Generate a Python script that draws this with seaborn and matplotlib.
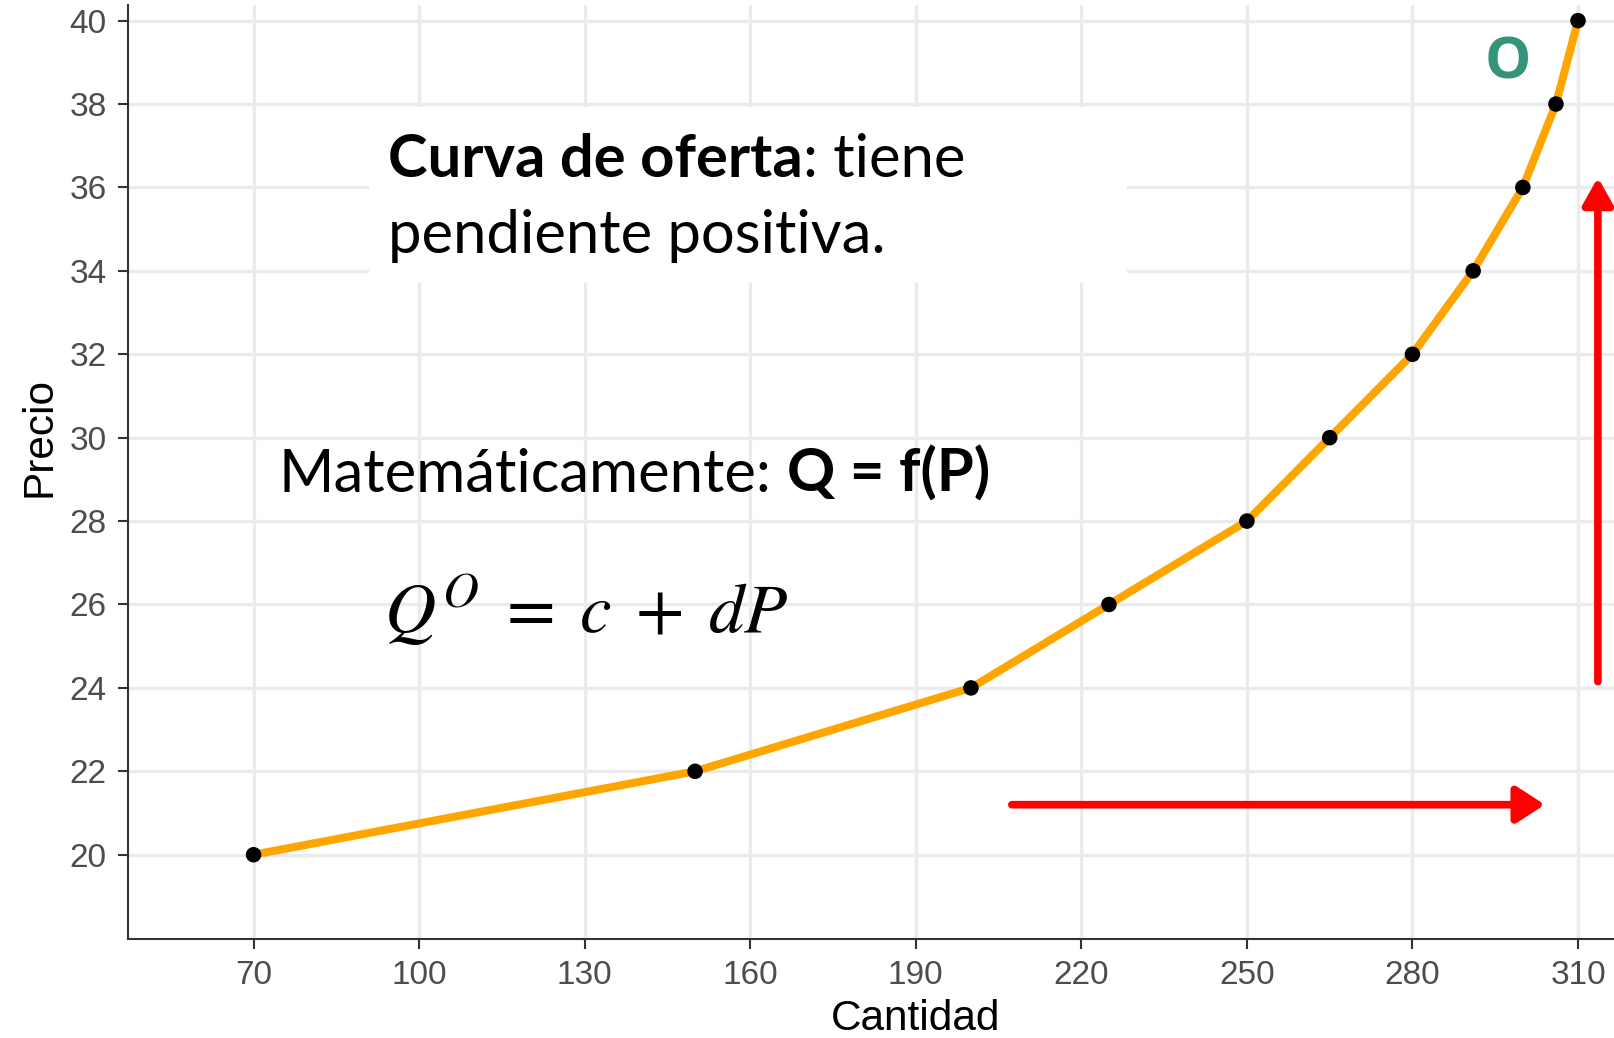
import matplotlib.pyplot as plt
import pandas as pd
import seaborn as sns
from matplotlib.patches import Rectangle

# supply curve points
cantidad = [70, 150, 200, 225, 250, 265, 280, 291, 300, 306, 310]
precio = [20, 22, 24, 26, 28, 30, 32, 34, 36, 38, 40]

x_ticks = [70, 100, 130, 160, 190, 220, 250, 280, 310]
y_ticks = [20, 22, 24, 26, 28, 30, 32, 34, 36, 38, 40]

df = pd.DataFrame({"Cantidad": cantidad, "Precio": precio})

sns.set_theme(style="whitegrid")
plt.rcParams["font.family"] = ["Liberation Sans", "DejaVu Sans"]
plt.rcParams["mathtext.fontset"] = "stix"

fig = plt.figure(figsize=(16.15, 10.38), dpi=100)
ax = fig.add_axes([0.0791, 0.0954, 0.9209, 0.8996])

sns.lineplot(data=df, x="Cantidad", y="Precio", color="#FFA500", linewidth=5.8, ax=ax, zorder=3)
sns.scatterplot(data=df, x="Cantidad", y="Precio", color="black", s=125, edgecolor="none", ax=ax, zorder=4)

ax.set_xlim(47.2, 316.7)
ax.set_ylim(17.98, 40.37)
ax.set_xticks(x_ticks)
ax.set_yticks(y_ticks)

ax.grid(True, color="#EBEBEB", linewidth=2.4)
for side in ["top", "right"]:
    ax.spines[side].set_visible(False)
for side in ["left", "bottom"]:
    ax.spines[side].set_color("#333333")
    ax.spines[side].set_linewidth(1.5)
ax.tick_params(axis="both", which="major", length=7.2, width=1.5, color="#333333",
               labelsize=24, labelcolor="#4D4D4D", pad=8, bottom=True, left=True)
ax.set_xlabel("Cantidad", fontsize=30.5, color="black", labelpad=5)
ax.set_ylabel("Precio", fontsize=30.5, color="black", labelpad=7)
ax.xaxis.set_label_coords(0.53, -0.064)
ax.yaxis.label.set_y(0.538)

# white box behind the title text
ax.add_patch(Rectangle((369 / 1615, 1 - 283 / 1038), (1127 - 369) / 1615, (283 - 107) / 1038,
                       transform=fig.transFigure, facecolor="white", edgecolor="none", zorder=1))

txt_font = ["Lato", "DejaVu Sans"]
t1 = ax.text(94.4, 36.24, "Curva de oferta", fontsize=43, fontweight="bold", color="black",
             family=txt_font, va="baseline", ha="left", zorder=5)
ax.annotate(": tiene", xy=(1, 0), xycoords=t1, va="bottom", ha="left", color="black",
            fontsize=43, family=txt_font, zorder=5)
ax.text(94.4, 34.44, "pendiente positiva.", fontsize=43, family=txt_font, color="black",
        va="baseline", ha="left", zorder=5)

t2 = ax.text(74.5, 28.70, "Matemáticamente:", fontsize=43, family=txt_font, color="black",
             va="baseline", ha="left", zorder=5)
ax.annotate("Q = f(P)", xy=(1, 0), xycoords=t2, xytext=(11, 0), textcoords="offset points",
            va="bottom", ha="left", fontsize=43, fontweight="bold", family=txt_font,
            color="black", zorder=5)

ax.text(93.6, 25.32, r"$Q^{O}\;=\;c\;+\;dP$", fontsize=51, color="black",
        va="baseline", ha="left", zorder=5)

ax.text(297.3, 38.97, "O", fontsize=42, fontweight="bold", color="#33947A",
        family=["Open Sans", "DejaVu Sans"], va="center", ha="center", zorder=5)

# red arrows
ax.annotate("", xy=(304.0, 21.2), xytext=(207.4, 21.2),
            arrowprops=dict(arrowstyle="-|>,head_length=17,head_width=11", mutation_scale=1,
                            color="red", linewidth=5.5, shrinkA=0, shrinkB=0), zorder=5)
ax.annotate("", xy=(313.6, 36.24), xytext=(313.6, 24.15),
            arrowprops=dict(arrowstyle="-|>,head_length=16,head_width=9", mutation_scale=1,
                            color="red", linewidth=5.5, shrinkA=0, shrinkB=0), zorder=5)

fig.savefig("out.png", dpi=100)
